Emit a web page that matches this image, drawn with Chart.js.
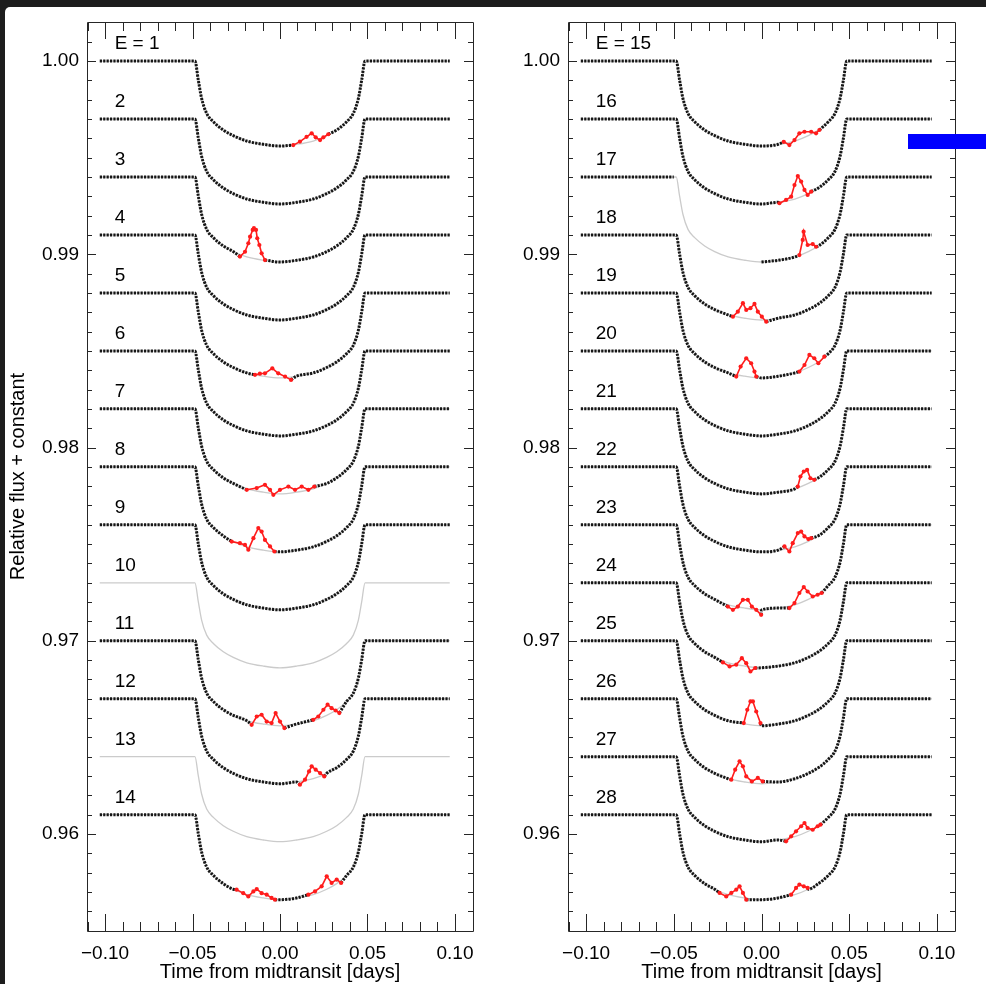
<!DOCTYPE html>
<html>
<head>
<meta charset="utf-8">
<script src="https://cdn.jsdelivr.net/npm/chart.js@4.4.1/dist/chart.umd.min.js"></script>
<style>
  html, body { margin: 0; padding: 0; background: #1d1d1d; width: 986px; height: 984px; overflow: hidden; }
  #page { position: absolute; left: 5px; top: 7px; width: 981px; height: 977px; background: #fff; border-top-left-radius: 5px; }
  .panel { position: absolute; top: 0; height: 984px; }
  #left { left: 0; width: 490px; }
  #right { left: 490px; width: 496px; }
  #blue { position: absolute; left: 908px; top: 134px; width: 78px; height: 15px; background: #0000ff; }
</style>
</head>
<body>
<div id="page"></div>
<div class="panel" id="left"><canvas id="cLeft" width="490" height="984"></canvas></div>
<div class="panel" id="right"><canvas id="cRight" width="496" height="984"></canvas></div>
<div id="blue"></div>
<script>
// epochs and their flux offsets (relative flux + constant)
const leftLabels = ["E = 1", "2", "3", "4", "5", "6", "7", "8", "9", "10", "11", "12", "13", "14"];
const rightLabels = ["E = 15", "16", "17", "18", "19", "20", "21", "22", "23", "24", "25", "26", "27", "28"];
const leftEpochs = [1, 2, 3, 4, 5, 6, 7, 8, 9, 10, 11, 12, 13, 14];
const rightEpochs = [15, 16, 17, 18, 19, 20, 21, 22, 23, 24, 25, 26, 27, 28];
const baselines = [1.000, 0.997, 0.994, 0.991, 0.988, 0.985, 0.982, 0.979, 0.976, 0.973, 0.970, 0.967, 0.964, 0.961];

// transit model shape (time in days, flux below baseline)
const modelT = [-0.1030, -0.0750, -0.0500, -0.0486, -0.0467, -0.0448, -0.0419, -0.0381, -0.0324, -0.0267, -0.0190, -0.0095, 0.0000,
                0.0095, 0.0190, 0.0267, 0.0324, 0.0381, 0.0419, 0.0448, 0.0467, 0.0486, 0.0500, 0.0750, 0.0970];
const modelDepth = [0, 0, 0, 0, -0.00098, -0.00193, -0.00271, -0.00314, -0.00357, -0.00386, -0.00414, -0.00431, -0.00440,
                    -0.00431, -0.00414, -0.00386, -0.00357, -0.00314, -0.00271, -0.00193, -0.00098, 0, 0, 0, 0];

// epochs with no data (model only) and the data gap of epoch 17
const noDataEpochs = [10, 13];
const dataGaps = { 17: [-0.050, 0.000] };

// spot-crossing anomalies (red), [time, flux below baseline]
const spotE1 = [[0.0076, -0.00435], [0.0114, -0.00417], [0.0152, -0.00392], [0.0181, -0.00374], [0.0204, -0.00395], [0.0229, -0.00409], [0.0248, -0.00395], [0.0276, -0.00379]];
const spotE3 = [[-0.0229, -0.00412], [-0.0200, -0.00387], [-0.0181, -0.00343], [-0.0171, -0.00309], [-0.0156, -0.00274], [-0.0149, -0.00265], [-0.0137, -0.00274], [-0.0130, -0.00317], [-0.0118, -0.00352], [-0.0105, -0.00395], [-0.0086, -0.00430]];
const spotE5 = [[-0.0143, -0.00424], [-0.0115, -0.00418], [-0.0086, -0.00416], [-0.0044, -0.00390], [-0.0010, -0.00416], [0.0029, -0.00433], [0.0063, -0.00450]];
const spotE7 = [[-0.0190, -0.00419], [-0.0133, -0.00410], [-0.0086, -0.00393], [-0.0057, -0.00419], [-0.0038, -0.00445], [0.0000, -0.00419], [0.0048, -0.00402], [0.0086, -0.00419], [0.0124, -0.00402], [0.0162, -0.00419], [0.0196, -0.00402]];
const spotE8 = [[-0.0276, -0.00387], [-0.0229, -0.00395], [-0.0200, -0.00404], [-0.0181, -0.00429], [-0.0152, -0.00369], [-0.0124, -0.00317], [-0.0105, -0.00335], [-0.0086, -0.00378], [-0.0057, -0.00412], [-0.0032, -0.00438]];
const spotE11a = [[-0.0162, -0.00435], [-0.0133, -0.00392], [-0.0105, -0.00383], [-0.0076, -0.00418], [-0.0048, -0.00426], [-0.0025, -0.00374], [0.0000, -0.00418], [0.0025, -0.00452]];
const spotE11b = [[0.0190, -0.00409], [0.0219, -0.00392], [0.0248, -0.00357], [0.0272, -0.00331], [0.0295, -0.00349], [0.0318, -0.00361], [0.0339, -0.00374]];
const spotE12 = [[0.0114, -0.00445], [0.0143, -0.00419], [0.0166, -0.00376], [0.0181, -0.00350], [0.0204, -0.00367], [0.0229, -0.00385], [0.0253, -0.00402]];
const spotE14a = [[-0.0248, -0.00388], [-0.0210, -0.00406], [-0.0181, -0.00423], [-0.0152, -0.00397], [-0.0133, -0.00385], [-0.0105, -0.00406], [-0.0076, -0.00414], [-0.0048, -0.00431], [-0.0029, -0.00440]];
const spotE14b = [[0.0162, -0.00414], [0.0200, -0.00397], [0.0238, -0.00371], [0.0267, -0.00319], [0.0295, -0.00353], [0.0324, -0.00336], [0.0349, -0.00353]];
const spotE15 = [[0.0127, -0.00418], [0.0159, -0.00435], [0.0188, -0.00409], [0.0216, -0.00374], [0.0245, -0.00366], [0.0283, -0.00366], [0.0311, -0.00374], [0.0330, -0.00357]];
const spotE16 = [[0.0102, -0.00436], [0.0140, -0.00419], [0.0169, -0.00402], [0.0188, -0.00342], [0.0207, -0.00295], [0.0226, -0.00324], [0.0245, -0.00367], [0.0263, -0.00393], [0.0283, -0.00376]];
const spotE17 = [[0.0216, -0.00404], [0.0235, -0.00326], [0.0240, -0.00283], [0.0263, -0.00352], [0.0292, -0.00347], [0.0311, -0.00361]];
const spotE18 = [[-0.0163, -0.00423], [-0.0135, -0.00397], [-0.0106, -0.00353], [-0.0087, -0.00388], [-0.0063, -0.00379], [-0.0040, -0.00357], [-0.0021, -0.00397], [0.0002, -0.00423], [0.0027, -0.00449]];
const spotE19a = [[-0.0144, -0.00433], [-0.0119, -0.00381], [-0.0087, -0.00338], [-0.0059, -0.00364], [-0.0040, -0.00407], [-0.0030, -0.00433]];
const spotE19b = [[0.0216, -0.00407], [0.0245, -0.00373], [0.0273, -0.00321], [0.0301, -0.00338], [0.0324, -0.00364], [0.0358, -0.00330]];
const spotE21 = [[0.0207, -0.00402], [0.0222, -0.00350], [0.0241, -0.00324], [0.0260, -0.00316], [0.0279, -0.00359], [0.0301, -0.00367]];
const spotE22 = [[0.0131, -0.00412], [0.0159, -0.00438], [0.0178, -0.00395], [0.0207, -0.00343], [0.0226, -0.00335], [0.0245, -0.00360], [0.0267, -0.00374], [0.0283, -0.00369]];
const spotE23a = [[-0.0192, -0.00423], [-0.0163, -0.00440], [-0.0135, -0.00423], [-0.0106, -0.00388], [-0.0078, -0.00388], [-0.0055, -0.00423], [-0.0030, -0.00440], [-0.0002, -0.00466]];
const spotE23b = [[0.0159, -0.00431], [0.0188, -0.00405], [0.0216, -0.00353], [0.0241, -0.00322], [0.0263, -0.00345], [0.0292, -0.00371], [0.0320, -0.00362], [0.0343, -0.00353]];
const spotE24 = [[-0.0220, -0.00412], [-0.0182, -0.00433], [-0.0144, -0.00424], [-0.0112, -0.00390], [-0.0087, -0.00416], [-0.0063, -0.00459], [-0.0036, -0.00441]];
const spotE25 = [[-0.0101, -0.00426], [-0.0081, -0.00357], [-0.0063, -0.00314], [-0.0049, -0.00314], [-0.0030, -0.00366], [-0.0006, -0.00426]];
const spotE26 = [[-0.0172, -0.00419], [-0.0150, -0.00367], [-0.0125, -0.00324], [-0.0106, -0.00350], [-0.0087, -0.00402], [-0.0055, -0.00428], [-0.0021, -0.00410], [0.0007, -0.00428]];
const spotE27 = [[0.0140, -0.00438], [0.0169, -0.00412], [0.0197, -0.00386], [0.0226, -0.00360], [0.0245, -0.00343], [0.0263, -0.00369], [0.0292, -0.00378], [0.0320, -0.00360], [0.0336, -0.00352]];
const spotE28a = [[-0.0239, -0.00405], [-0.0201, -0.00423], [-0.0172, -0.00405], [-0.0144, -0.00388], [-0.0125, -0.00371], [-0.0106, -0.00405], [-0.0087, -0.00440]];
const spotE28b = [[0.0169, -0.00414], [0.0197, -0.00379], [0.0216, -0.00362], [0.0241, -0.00371], [0.0263, -0.00379]];

const spotGroups = [
  [1, spotE1], [3, spotE3], [5, spotE5], [7, spotE7], [8, spotE8], [11, spotE11a], [11, spotE11b],
  [12, spotE12], [14, spotE14a], [14, spotE14b], [15, spotE15], [16, spotE16], [17, spotE17],
  [18, spotE18], [19, spotE19a], [19, spotE19b], [21, spotE21], [22, spotE22], [23, spotE23a],
  [23, spotE23b], [24, spotE24], [25, spotE25], [26, spotE26], [27, spotE27], [28, spotE28a], [28, spotE28b]
];

// axes
const xTickValues = [-0.10, -0.05, 0.00, 0.05, 0.10];
const yTickValues = [0.96, 0.97, 0.98, 0.99, 1.00];

const FONT = '"Liberation Sans", Arial, Helvetica, sans-serif';
Chart.defaults.font.family = FONT;
Chart.defaults.color = '#000';

function fmt(v) {
  return (v < -1e-9 ? '\u2212' : '') + Math.abs(v).toFixed(2);
}

// black data: model shape with breaks where the red points or gaps are
function dataSeries(epoch, base) {
  const groups = spotGroups.filter(g => g[0] === epoch).map(g => g[1]);
  const gap = dataGaps[epoch];
  const pts = [];
  modelT.forEach((t, i) => {
    if (gap && t > gap[0] && t < gap[1]) return;
    if (groups.some(g => t >= g[0][0] && t <= g[g.length - 1][0])) return;
    pts.push({ x: t, y: base + modelDepth[i], brk: gap && t === gap[0] });
  });
  groups.forEach(g => {
    pts.push({ x: g[0][0], y: base + g[0][1], brk: true });
    pts.push({ x: g[g.length - 1][0], y: base + g[g.length - 1][1] });
  });
  pts.sort((a, b) => a.x - b.x);
  const out = [];
  pts.forEach((p, i) => {
    out.push({ x: p.x, y: p.y });
    if (p.brk && i < pts.length - 1) out.push({ x: (p.x + pts[i + 1].x) / 2, y: null });
  });
  return out;
}

function panelDatasets(epochs) {
  const sets = [];
  epochs.forEach((e, i) => {
    const base = baselines[i];
    sets.push({
      data: modelT.map((t, k) => ({ x: t, y: base + modelDepth[k] })),
      borderColor: '#cbcbcb', borderWidth: 1.3, pointRadius: 0, order: 2,
      cubicInterpolationMode: 'monotone'
    });
    if (!noDataEpochs.includes(e)) {
      sets.push({
        data: dataSeries(e, base),
        borderColor: '#161616', borderWidth: 3, borderDash: [2.2, 1.2], pointRadius: 0, order: 1,
        cubicInterpolationMode: 'monotone'
      });
    }
    spotGroups.filter(g => g[0] === e).forEach(g => {
      sets.push({
        data: g[1].map(p => ({ x: p[0], y: base + p[1] })),
        borderColor: '#ff1c1c', backgroundColor: '#ff1c1c', borderWidth: 1.6,
        pointRadius: 2.1, pointBorderWidth: 0, order: 0
      });
    });
  });
  return sets;
}

// IDL-style frame with inward ticks on all four sides, plus epoch labels
const framePlugin = {
  id: 'frame',
  afterDatasetsDraw(chart, args, opts) {
    const { ctx, chartArea: a, scales: { x, y } } = chart;
    ctx.save();
    ctx.strokeStyle = '#262626';
    ctx.lineWidth = 1;
    ctx.beginPath();
    ctx.rect(Math.round(a.left) + 0.5, Math.round(a.top) + 0.5, Math.round(a.right - a.left), Math.round(a.bottom - a.top));
    for (let k = -11; k <= 11; k++) {
      const px = Math.round(x.getPixelForValue(k / 100)) + 0.5;
      if (px <= a.left + 1 || px >= a.right - 1) continue;
      const len = k % 5 === 0 ? 17 : 9;
      ctx.moveTo(px, a.bottom); ctx.lineTo(px, a.bottom - len);
      ctx.moveTo(px, a.top); ctx.lineTo(px, a.top + len);
    }
    for (let k = 955; k <= 1002; k++) {
      const py = Math.round(y.getPixelForValue(k / 1000)) + 0.5;
      if (py <= a.top + 1 || py >= a.bottom - 1) continue;
      const len = k % 10 === 0 ? 9 : 5;
      ctx.moveTo(a.left, py); ctx.lineTo(a.left + len, py);
      ctx.moveTo(a.right, py); ctx.lineTo(a.right - len, py);
    }
    ctx.stroke();
    ctx.font = '19px ' + FONT;
    ctx.fillStyle = '#000';
    ctx.textAlign = 'left';
    ctx.textBaseline = 'middle';
    opts.labels.forEach((s, i) => {
      ctx.fillText(s, x.getPixelForValue(-0.0945), y.getPixelForValue(baselines[i] + 0.00088));
    });
    ctx.restore();
  }
};

function makePanel(id, epochs, labels, yWidth, padRight, showYTitle) {
  new Chart(document.getElementById(id), {
    type: 'line',
    data: { datasets: panelDatasets(epochs) },
    plugins: [framePlugin],
    options: {
      responsive: false,
      animation: false,
      events: [],
      layout: { padding: { top: 22, right: padRight, bottom: 0, left: 0 } },
      plugins: { legend: { display: false }, tooltip: { enabled: false }, frame: { labels: labels } },
      scales: {
        x: {
          type: 'linear', min: -0.1103, max: 0.1103,
          grid: { display: false }, border: { display: false },
          afterBuildTicks: s => { s.ticks = xTickValues.map(v => ({ value: v })); },
          afterFit: s => { s.height = 53; },
          ticks: { autoSkip: false, maxRotation: 0, padding: 3, font: { size: 19 }, callback: v => fmt(v) },
          title: { display: true, text: 'Time from midtransit [days]', font: { size: 20 }, padding: { top: 0, bottom: 0 } }
        },
        y: {
          type: 'linear', min: 0.95498, max: 1.00202,
          grid: { display: false }, border: { display: false },
          afterBuildTicks: s => { s.ticks = yTickValues.map(v => ({ value: v })); },
          afterFit: s => { s.width = yWidth; },
          ticks: { autoSkip: false, padding: 0, font: { size: 19 }, callback: v => v.toFixed(2) },
          title: { display: showYTitle, text: 'Relative flux + constant', font: { size: 20 }, padding: { top: 6, bottom: 0 } }
        }
      }
    }
  });
}

makePanel('cLeft', leftEpochs, leftLabels, 87, 17, true);
makePanel('cRight', rightEpochs, rightLabels, 78, 31, false);
</script>
</body>
</html>
